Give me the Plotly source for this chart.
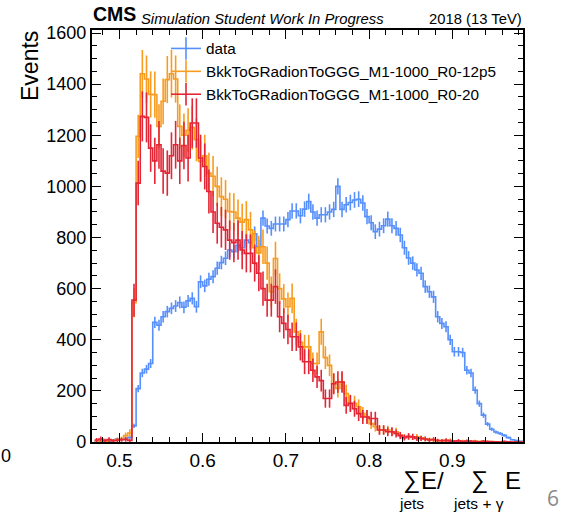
import numpy as np
import plotly.graph_objects as go

# ---------------- data ----------------
BIN_START = 0.47
BIN_WIDTH = 0.005
N_BINS = 103

data_counts = [
    3, 2, 5, 3, 7, 12, 10, 14, 18, 63,
    209, 270, 285, 307, 468, 457, 490, 510, 523, 532,
    546, 527, 552, 562, 529, 627, 611, 637, 647, 680,
    702, 719, 751, 745, 770, 760, 790, 780, 815, 764,
    876, 845, 836, 853, 853, 853, 870, 904, 904, 885,
    911, 941, 900, 876, 889, 889, 900, 910, 1000, 910,
    928, 937, 947, 950, 935, 882, 858, 823, 833, 846,
    872, 846, 836, 810, 760, 720, 700, 673, 660, 608,
    588, 568, 490, 464, 451, 400, 353, 353, 350, 281,
    270, 203, 150, 105, 70, 50, 39, 33, 26, 17,
    9, 6, 3,
]
sig_12p5_counts = [
    4, 6, 3, 8, 5, 10, 12, 25, 35, 545,
    1196, 1441, 1420, 1360, 1359, 1235, 1333, 1418, 1441, 1420,
    1235, 1200, 1220, 1230, 1183, 1098, 1120, 1052, 1040, 1000,
    960, 950, 902, 900, 876, 860, 870, 830, 760, 740,
    764, 700, 588, 718, 600, 560, 529, 562, 431, 390,
    372, 372, 307, 307, 431, 330, 300, 229, 210, 235,
    190, 151, 151, 138, 111, 100, 72, 60, 47, 47,
    47, 40, 40, 27, 20, 20, 18, 20, 15, 12,
    10, 8, 5, 6, 4, 7, 3, 5, 4, 3,
    2, 4, 2, 3, 1, 2, 1, 1, 0, 1,
    0, 0, 0,
]
sig_20_counts = [
    8, 12, 6, 10, 5, 7, 9, 10, 6, 555,
    1013, 1274, 1270, 1150, 1100, 1163, 1060, 1052, 1120, 1163,
    1100, 1160, 1111, 1248, 1248, 1111, 1078, 980, 900, 856,
    840, 830, 790, 780, 790, 751, 738, 738, 700, 660,
    600, 555, 555, 608, 490, 464, 440, 412, 412, 372,
    314, 314, 281, 255, 240, 170, 170, 228, 235, 235,
    143, 151, 130, 111, 98, 98, 92, 92, 47, 47,
    40, 40, 33, 25, 17, 22, 20, 14, 14, 12,
    8, 10, 6, 5, 7, 4, 3, 5, 2, 4,
    3, 2, 1, 3, 2, 1, 1, 0, 2, 1,
    0, 1, 0,
]
# per-event weights of each sample (used for the sqrt(sum w^2) error bars)
data_weight = 1.0
sig_12p5_weight = 6.0
sig_20_weight = 7.5

series_names = ["data", "BkkToGRadionToGGG_M1-1000_R0-12p5", "BkkToGRadionToGGG_M1-1000_R0-20"]
series_counts = [data_counts, sig_12p5_counts, sig_20_counts]
series_weights = [data_weight, sig_12p5_weight, sig_20_weight]
series_colors = ["#5790fc", "#f89c20", "#e42536"]

x_ticks = [0.5, 0.6, 0.7, 0.8, 0.9]
y_ticks = [0, 200, 400, 600, 800, 1000, 1200, 1400, 1600]

FONT = "Liberation Sans, Arial, Helvetica, sans-serif"

# ---------------- figure ----------------
edges = BIN_START + BIN_WIDTH * np.arange(N_BINS + 1)
centers = 0.5 * (edges[:-1] + edges[1:])

fig = go.Figure()
for name, counts, w, color in zip(series_names, series_counts, series_weights, series_colors):
    y = np.asarray(counts, dtype=float)
    fig.add_trace(go.Scatter(
        x=edges, y=np.append(y, y[-1]), mode="lines",
        line=dict(color=color, width=1.6, shape="hv"),
        showlegend=False, hoverinfo="skip"))
    fig.add_trace(go.Scatter(
        x=centers, y=y, mode="markers",
        marker=dict(size=1, color=color, opacity=0),
        error_y=dict(type="data", array=np.sqrt(w * y), width=0,
                     thickness=1.6, color=color),
        showlegend=False))

# legend entries (step line + error bar cross)
for name, color in zip(series_names, series_colors):
    fig.add_trace(go.Scatter(
        x=[None], y=[None], mode="lines+markers", name=name,
        line=dict(color=color, width=1.6),
        marker=dict(symbol="line-ns-open", size=16, color=color,
                    line=dict(color=color, width=1.6))))

axis_common = dict(
    showline=True, linewidth=2.2, linecolor="black", mirror="allticks",
    ticks="inside", ticklen=9, tickwidth=1.3, tickcolor="black",
    showgrid=False, zeroline=False,
)
fig.update_xaxes(range=[0.467, 0.985], tickvals=x_ticks,
                 tickfont=dict(family=FONT, size=19, color="black"),
                 minor=dict(dtick=0.02, tick0=0.5, ticks="inside", ticklen=5,
                            tickwidth=1, tickcolor="black"),
                 **axis_common)
fig.update_yaxes(range=[0, 1612], tickvals=y_ticks,
                 tickfont=dict(family=FONT, size=18, color="black"),
                 minor=dict(dtick=50, tick0=0, ticks="inside", ticklen=5,
                            tickwidth=1, tickcolor="black"),
                 **axis_common)

L, R, T, B = 92, 45, 30, 73
W, H = 568, 515
pw, ph = W - L - R, H - T - B


def px(xp):
    return (xp - L) / pw


def py(yp):
    return (H - B - yp) / ph


annots = [
    dict(text="<b>CMS</b>", x=px(92), y=py(26.5), xanchor="left", yanchor="bottom",
         font=dict(size=19.5, family=FONT, color="black")),
    dict(text="<i>Simulation Student Work In Progress</i>", x=px(140), y=py(27.5),
         xanchor="left", yanchor="bottom", font=dict(size=14.8, family=FONT, color="black")),
    dict(text="2018 (13 TeV)", x=1.0, y=py(27.5), xanchor="right", yanchor="bottom",
         font=dict(size=14.8, family=FONT, color="black")),
    dict(text="Events", textangle=-90, x=px(30), y=1.0, xanchor="center", yanchor="top",
         font=dict(size=23, family=FONT, color="black")),
    dict(text="∑", x=px(411), y=py(480), xanchor="center", yanchor="middle",
         font=dict(size=24, family=FONT, color="black")),
    dict(text="E/", x=px(420), y=py(480), xanchor="left", yanchor="middle",
         font=dict(size=24, family=FONT, color="black")),
    dict(text="∑", x=px(479), y=py(480), xanchor="center", yanchor="middle",
         font=dict(size=24, family=FONT, color="black")),
    dict(text="E", x=px(522), y=py(480), xanchor="right", yanchor="middle",
         font=dict(size=24, family=FONT, color="black")),
    dict(text="jets", x=px(411), y=py(503), xanchor="center", yanchor="middle",
         font=dict(size=15.5, family=FONT, color="black")),
    dict(text="jets + γ", x=px(478), y=py(503), xanchor="center", yanchor="middle",
         font=dict(size=15.5, family=FONT, color="black")),
    dict(text="6", x=px(553), y=py(498), xanchor="center", yanchor="middle",
         font=dict(size=21, family="Open Sans, sans-serif", color="#8a8a8a")),
    dict(text="0", x=px(0), y=py(456), xanchor="left", yanchor="middle",
         font=dict(size=18, family=FONT, color="black")),
]
for a in annots:
    a.update(xref="paper", yref="paper", showarrow=False, borderpad=0)

fig.update_layout(
    width=W, height=H, autosize=False,
    margin=dict(l=L, r=R, t=T, b=B, pad=0),
    paper_bgcolor="white", plot_bgcolor="white",
    annotations=annots,
    showlegend=True,
    legend=dict(x=px(166), y=py(32), xanchor="left", yanchor="top",
                bgcolor="rgba(0,0,0,0)", borderwidth=0,
                font=dict(size=15.3, family=FONT, color="black"),
                itemwidth=30, tracegroupgap=0),
    font=dict(family=FONT),
)

fig.write_html("out.html")
